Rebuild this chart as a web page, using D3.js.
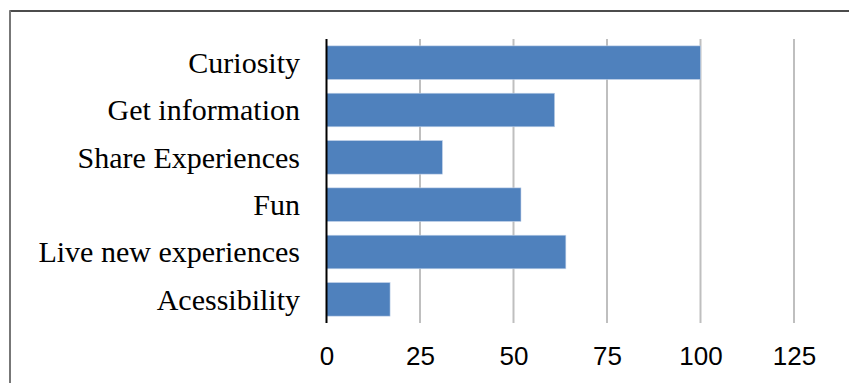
<!DOCTYPE html>
<html>
<head>
<meta charset="utf-8">
<script src="https://cdn.jsdelivr.net/npm/d3@7"></script>
<style>
  html, body { margin: 0; padding: 0; background: #fff; }
  svg { display: block; }
</style>
</head>
<body>
<svg id="chart" width="849" height="383"></svg>
<script>
var categories = ['Curiosity', 'Get information', 'Share Experiences', 'Fun',
  'Live new experiences', 'Acessibility'];
var values = [100, 61, 31, 52, 64, 17];
var tickValues = [0, 25, 50, 75, 100, 125];

var svg, x, y, margin, xAxis;

svg = d3.select('#chart');
margin = {left: 326.5, right: 794, top: 39, bottom: 323};

// frame of the picture (only top and left edges show)
svg.append('line')
  .attr('x1', 9.5).attr('x2', 849)
  .attr('y1', 11).attr('y2', 11)
  .attr('stroke', '#111').attr('stroke-width', 1.5);
svg.append('line')
  .attr('x1', 10).attr('x2', 10)
  .attr('y1', 10.5).attr('y2', 383)
  .attr('stroke', '#777').attr('stroke-width', 2);

x = d3.scaleLinear().domain([0, 125]).range([margin.left, margin.right]);
y = d3.scaleBand().domain(categories)
  .range([margin.top, margin.bottom])
  .paddingInner(0.29).paddingOuter(0.145);

// vertical gridlines
svg.append('g')
  .selectAll('line')
  .data(tickValues.slice(1))
  .enter()
  .append('line')
  .attr('x1', function (d) { return x(d); })
  .attr('x2', function (d) { return x(d); })
  .attr('y1', margin.top)
  .attr('y2', margin.bottom)
  .attr('stroke', '#bfbfbf')
  .attr('stroke-width', 2);

// bars
svg.append('g')
  .selectAll('rect')
  .data(values)
  .enter()
  .append('rect')
  .attr('x', x(0))
  .attr('y', function (d, i) { return y(categories[i]); })
  .attr('width', function (d) { return x(d) - x(0); })
  .attr('height', y.bandwidth())
  .attr('fill', '#4f81bd')
  .attr('stroke', '#c5d4ea')
  .attr('stroke-width', 0.6);

// category axis line
svg.append('line')
  .attr('x1', x(0)).attr('x2', x(0))
  .attr('y1', margin.top).attr('y2', margin.bottom)
  .attr('stroke', '#000').attr('stroke-width', 2);

// category labels
svg.append('g')
  .selectAll('text')
  .data(categories)
  .enter()
  .append('text')
  .attr('x', 300)
  .attr('y', function (d) { return y(d) + y.bandwidth() / 2; })
  .attr('dy', '0.34em')
  .attr('text-anchor', 'end')
  .attr('font-family', '"Liberation Serif", "Times New Roman", serif')
  .attr('font-size', 30)
  .attr('fill', '#000')
  .text(function (d) { return d; });

// value axis labels
xAxis = d3.axisBottom(x).tickValues(tickValues).tickSize(0).tickPadding(0);
svg.append('g')
  .attr('transform', 'translate(0,' + 364.5 + ')')
  .call(xAxis)
  .call(function (g) { g.select('.domain').remove(); })
  .selectAll('text')
  .attr('dy', 0)
  .attr('font-family', '"Liberation Sans", Arial, sans-serif')
  .attr('font-size', 26)
  .attr('fill', '#000');
</script>
</body>
</html>
